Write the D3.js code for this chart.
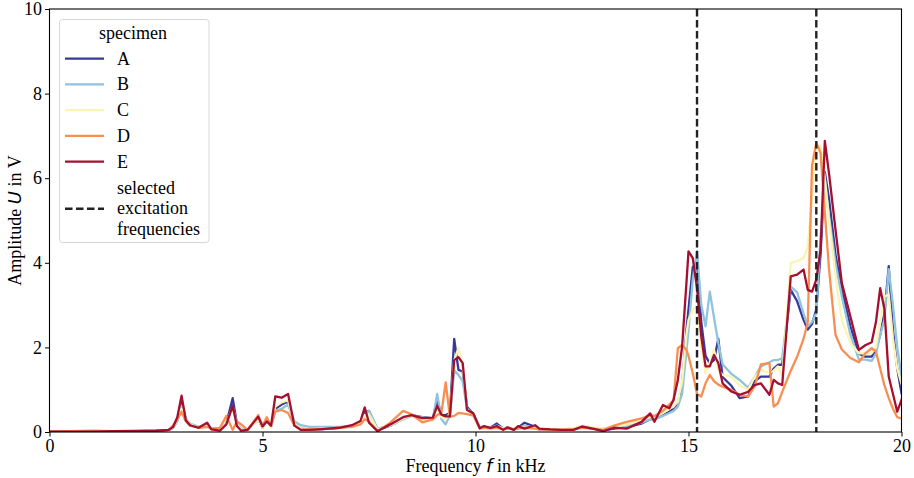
<!DOCTYPE html>
<html><head><meta charset="utf-8">
<script src="https://cdn.jsdelivr.net/npm/d3@7"></script>
<style>body{margin:0;background:#fff} svg{display:block} text{font-family:"Liberation Serif","DejaVu Serif",serif;} .m{font-family:"DejaVu Sans",sans-serif;font-style:italic;}</style>
</head><body><svg id="c" width="914" height="478"></svg>
<script>
// Frequency grid in kHz (shared by all specimens)
const freq = [
  0, 0.5, 1, 1.5, 2, 2.5, 2.8, 2.9, 3.0, 3.1, 3.2, 3.3, 3.5, 3.7, 3.8, 4.0, 4.15, 4.3, 4.4, 4.5, 4.65,
  4.9, 5.0, 5.1, 5.2, 5.3, 5.45, 5.6, 5.75, 5.9, 6.1, 6.4, 6.8,
  7.1, 7.3, 7.4, 7.5, 7.7, 8.0, 8.3, 8.5, 8.75, 9.0, 9.1, 9.2, 9.3, 9.4, 9.5, 9.6, 9.7, 9.8, 9.95,
  10.1, 10.2, 10.35, 10.5, 10.65, 10.75, 10.9, 11.0, 11.15, 11.4, 11.5, 11.75, 12.0, 12.3, 12.5, 12.75, 13.0, 13.25, 13.55, 13.9,
  14.1, 14.2, 14.4, 14.55, 14.65, 14.75, 14.85, 14.95, 15.0, 15.1, 15.2, 15.3, 15.4, 15.5, 15.6, 15.7, 15.8, 16.0, 16.2, 16.4, 16.55, 16.7, 16.9,
  17.0, 17.1, 17.2, 17.4, 17.55, 17.7, 17.8, 17.9, 18.0, 18.1, 18.2, 18.3, 18.45, 18.6, 18.8, 19.0, 19.15, 19.3, 19.4, 19.5, 19.6, 19.7, 19.8, 19.9, 20.0
];
const specimens = ["A", "B", "C", "D", "E"];
const ampA = [
  .01, .01, .01, .02, .02, .03, .05, .10, .28, .72, .30, .18, .10, .15, .08, .05, .20, .80, .20, .05, .05,
  .30, .10, .30, .12, .55, .65, .72, .20, .08, .06, .07, .10,
  .14, .22, .45, .50, .05, .15, .32, .40, .35, .32, .76, .40, .40, .45, 2.20, 1.47, 1.43, .60, .42,
  .10, .12, .10, .20, .08, .10, .06, .10, .22, .12, .06, .06, .05, .06, .12, .08, .04, .08, .12, .20,
  .30, .32, .40, .48, .55, .70, 1.10, 2.40, 2.90, 3.90, 4.00, 2.60, 1.80, 1.62, 1.70, 2.20, 1.30, 1.10, .80, .84, 1.20, 1.31, 1.31,
  1.50, 1.59, 1.59, 3.36, 3.09, 2.65, 2.42, 2.55, 2.90, 4.20, 6.15, 5.50, 4.20, 3.35, 2.50, 1.85, 1.78, 1.78, 1.95, 2.30, 2.81, 3.92, 2.40, 1.50, .92
];
const ampB = [
  .01, .01, .01, .02, .02, .03, .05, .10, .25, .62, .32, .20, .12, .14, .08, .06, .22, .60, .22, .08, .06,
  .28, .12, .28, .14, .50, .55, .65, .25, .16, .12, .12, .12,
  .14, .20, .40, .50, .08, .15, .30, .38, .35, .30, .90, .30, .18, .40, 1.45, 1.35, 1.20, .55, .40,
  .12, .12, .10, .15, .08, .10, .07, .10, .15, .10, .07, .06, .06, .08, .14, .10, .08, .10, .14, .22,
  .30, .30, .38, .45, .50, .60, .90, 1.90, 2.40, 3.60, 4.28, 3.00, 2.50, 3.32, 2.70, 2.10, 1.60, 1.38, 1.23, 1.05, 1.30, 1.55, 1.65,
  1.70, 1.70, 1.75, 3.44, 3.30, 2.80, 2.50, 2.60, 2.81, 4.60, 5.95, 5.10, 4.00, 3.20, 2.30, 1.71, 1.71, 1.68, 1.85, 2.30, 2.65, 3.85, 3.00, 2.00, 1.31
];
const ampC = [
  .01, .01, .02, .02, .03, .03, .05, .12, .30, .55, .30, .18, .10, .14, .08, .06, .22, .55, .18, .06, .05,
  .30, .10, .30, .10, .60, .70, .75, .20, .08, .07, .08, .10,
  .14, .20, .40, .42, .06, .16, .32, .40, .30, .28, .60, .35, .30, .45, 1.70, 1.98, 1.50, .55, .40,
  .10, .12, .10, .14, .08, .10, .07, .10, .12, .10, .07, .06, .06, .08, .15, .12, .08, .12, .18, .28,
  .35, .35, .45, .55, .60, .72, 1.20, 2.30, 2.65, 2.90, 2.97, 2.00, 1.39, 1.65, 1.94, 1.47, 1.35, 1.31, 1.10, 1.00, 1.30, 1.47, 1.39,
  1.45, 1.55, 1.31, 4.00, 4.04, 4.11, 4.38, 5.60, 6.70, 6.76, 6.00, 5.00, 3.70, 2.65, 2.10, 1.86, 1.86, 1.86, 2.00, 2.60, 3.20, 3.25, 2.20, 1.50, 1.14
];
const ampD = [
  .01, .02, .03, .02, .03, .03, .05, .15, .30, .48, .25, .15, .10, .12, .08, .10, .38, .05, .25, .18, .05,
  .40, .15, .35, .15, .48, .52, .45, .15, .05, .06, .07, .10,
  .12, .18, .30, .25, .02, .22, .50, .42, .23, .30, .40, .45, 1.17, .36, .38, .45, .44, .42, .39,
  .08, .10, .08, .10, .06, .08, .06, .08, .10, .08, .06, .06, .05, .06, .10, .08, .05, .15, .24, .32,
  .40, .38, .50, .65, .75, 1.98, 2.06, 1.94, 1.80, 1.39, .90, .84, 1.15, 1.35, 1.20, 1.12, 1.07, 1.00, .88, .84, 1.07, 1.60, 1.63,
  .60, .68, .95, 1.45, 1.78, 2.20, 2.60, 6.30, 6.84, 6.60, 5.20, 3.84, 2.30, 1.95, 1.75, 1.65, 1.86, 1.98, 1.90, 1.50, 1.10, .80, .55, .35, .32
];
const ampE = [
  .01, .01, .01, .02, .02, .03, .05, .12, .35, .86, .28, .16, .10, .22, .06, .03, .18, .62, .14, .03, .05,
  .36, .13, .25, .15, .84, .81, .90, .15, .05, .05, .07, .10,
  .16, .26, .58, .22, .02, .18, .35, .40, .33, .34, .62, .41, .37, .37, 1.70, 1.77, 1.63, .52, .44,
  .09, .14, .10, .14, .05, .11, .05, .14, .08, .16, .08, .06, .05, .05, .13, .08, .02, .10, .08, .24,
  .44, .24, .64, .56, .76, 1.23, 2.02, 3.50, 4.27, 4.11, 3.40, 2.26, 1.55, 1.55, 1.82, 1.63, 1.15, .96, .88, .95, 1.11, 1.15, .88,
  1.23, 1.15, 1.11, 3.68, 3.72, 3.84, 3.36, 3.32, 3.60, 4.31, 6.88, 6.10, 4.79, 3.52, 2.73, 1.94, 2.05, 2.12, 2.60, 3.40, 2.90, 1.31, .90, .48, .76
];
const colorsList = ["#36399a", "#8fc3de", "#fbf4b2", "#f98e52", "#a50f30"];
const excitationFreqs = [15.2, 18.0];
const xTickValues = [0, 5, 10, 15, 20];
const yTickValues = [0, 2, 4, 6, 8, 10];

const amps = [ampA, ampB, ampC, ampD, ampE];
const svg = d3.select("#c");
const L = 49.5, R = 901.5, T = 9, B = 432;
const x = d3.scaleLinear().domain([0, 20]).range([L, R]);
const y = d3.scaleLinear().domain([0, 10]).range([B, T]);

svg.append("defs").append("clipPath").attr("id", "clip")
  .append("rect").attr("x", L).attr("y", T).attr("width", R - L).attr("height", B - T);

const line = d3.line().x(d => x(d[0])).y(d => y(d[1]));
const gLines = svg.append("g").attr("clip-path", "url(#clip)");
specimens.forEach((s, i) => {
  const data = freq.map((f, k) => [f, amps[i][k]]);
  gLines.append("path").datum(data).attr("d", line)
    .attr("fill", "none").attr("stroke", colorsList[i])
    .attr("stroke-width", 2.3).attr("stroke-linejoin", "round").attr("stroke-linecap", "square");
});
excitationFreqs.forEach(f => {
  gLines.append("line").attr("x1", x(f)).attr("x2", x(f)).attr("y1", T).attr("y2", B)
    .attr("stroke", "#222").attr("stroke-width", 2.4).attr("stroke-dasharray", "7.5,3.5");
});

// axes
const xAxis = svg.append("g").attr("transform", `translate(0,${B})`)
  .call(d3.axisBottom(x).tickValues(xTickValues).tickFormat(d3.format("d")).tickSize(4.5).tickPadding(3));
const yAxis = svg.append("g").attr("transform", `translate(${L},0)`)
  .call(d3.axisLeft(y).tickValues(yTickValues).tickFormat(d3.format("d")).tickSize(4.5).tickPadding(3));
[xAxis, yAxis].forEach(a => {
  a.attr("font-family", null).attr("font-size", null);
  a.select(".domain").remove();
  a.selectAll("line").attr("stroke", "#000").attr("stroke-width", 1);
  a.selectAll("text").style("font-family", '"Liberation Serif","DejaVu Serif",serif').style("font-size", "18px").attr("fill", "#000");
});
svg.append("rect").attr("x", L).attr("y", T).attr("width", R - L).attr("height", B - T)
  .attr("fill", "none").attr("stroke", "#000").attr("stroke-width", 1.1);

// axis labels
const xl = svg.append("text").attr("x", (L + R) / 2).attr("y", 472).attr("text-anchor", "middle")
  .style("font-size", "18px");
xl.append("tspan").text("Frequency ");
xl.append("tspan").attr("class", "m").text("f");
xl.append("tspan").text(" in kHz");
const yl = svg.append("text").attr("transform", `translate(21,${(T + B) / 2}) rotate(-90)`).attr("text-anchor", "middle")
  .style("font-size", "18px");
yl.append("tspan").text("Amplitude ");
yl.append("tspan").attr("class", "m").text("U");
yl.append("tspan").text(" in V");

// legend
const lg = svg.append("g");
lg.append("rect").attr("x", 59.5).attr("y", 19.5).attr("width", 149.5).attr("height", 223)
  .attr("rx", 3).attr("fill", "#fff").attr("fill-opacity", 0.85).attr("stroke", "#d6d6d6").attr("stroke-width", 1);
lg.append("text").attr("x", 133).attr("y", 39).attr("text-anchor", "middle")
  .style("font-size", "18px").text("specimen");
specimens.forEach((s, i) => {
  const cy = 58.7 + i * 25.75;
  lg.append("line").attr("x1", 65).attr("x2", 104).attr("y1", cy).attr("y2", cy)
    .attr("stroke", colorsList[i]).attr("stroke-width", 2.3);
  lg.append("text").attr("x", 117).attr("y", cy + 6).style("font-size", "18px").text(s);
});
lg.append("line").attr("x1", 65).attr("x2", 104).attr("y1", 208.7).attr("y2", 208.7)
  .attr("stroke", "#222").attr("stroke-width", 2.4).attr("stroke-dasharray", "7.5,3.5");
["selected", "excitation", "frequencies"].forEach((t, i) => {
  lg.append("text").attr("x", 117).attr("y", 194 + i * 20.3).style("font-size", "18px").text(t);
});
</script></body></html>
